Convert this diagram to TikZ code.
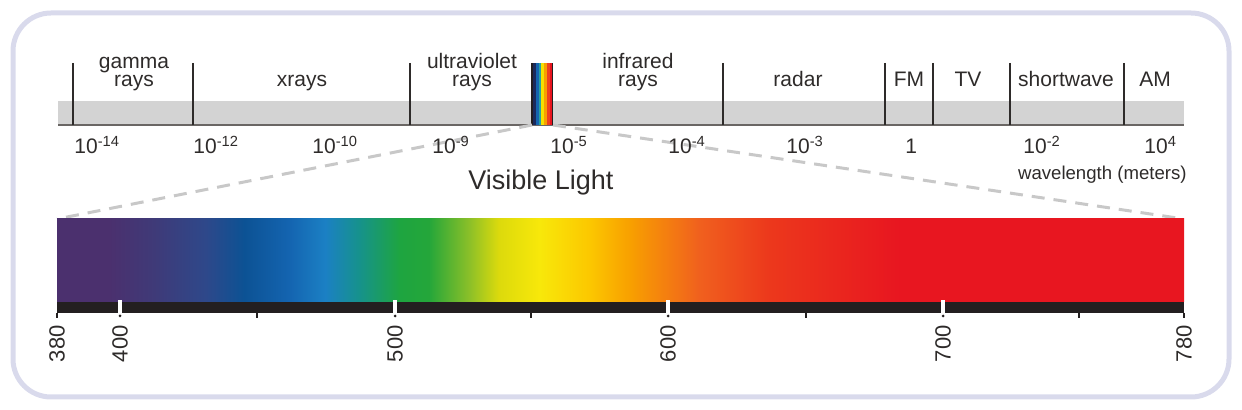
\documentclass[tikz,border=0pt]{standalone}
\usepackage{fontspec}
\setmainfont{Liberation Sans}

\definecolor{ink}{HTML}{2E2B2A}
\definecolor{framecol}{HTML}{D9DAEC}
\definecolor{bandcol}{HTML}{D3D3D3}
\definecolor{rulecol}{HTML}{6A6664}
\definecolor{barcol}{HTML}{231F20}
\definecolor{dashcol}{HTML}{C8C8C8}
\definecolor{st1}{HTML}{1B2A5C}
\definecolor{st2}{HTML}{1565B0}
\definecolor{st3}{HTML}{2AA0A0}
\definecolor{st4}{HTML}{F5E000}
\definecolor{st5}{HTML}{F7A000}
\definecolor{st6}{HTML}{EE4020}
\definecolor{st7}{HTML}{E8141F}
\definecolor{sv1}{RGB}{75,48,110}
\definecolor{sv2}{RGB}{63,58,120}
\definecolor{sv3}{RGB}{46,72,138}
\definecolor{sv4}{RGB}{12,82,148}
\definecolor{sv5}{RGB}{20,100,176}
\definecolor{sv6}{RGB}{27,128,196}
\definecolor{sv7}{RGB}{22,146,140}
\definecolor{sv8}{RGB}{30,165,64}
\definecolor{sv9}{RGB}{36,166,58}
\definecolor{sv10}{RGB}{140,192,40}
\definecolor{sv11}{RGB}{220,218,12}
\definecolor{sv12}{RGB}{248,232,10}
\definecolor{sv13}{RGB}{252,200,0}
\definecolor{sv14}{RGB}{248,160,0}
\definecolor{sv15}{RGB}{240,96,30}
\definecolor{sv16}{RGB}{236,56,28}
\definecolor{sv17}{RGB}{232,22,32}

\pgfdeclarehorizontalshading{visible}{100bp}{color(0bp)=(sv1); color(25bp)=(sv1); color(27.3bp)=(sv1); color(29.3bp)=(sv2); color(31.6bp)=(sv3); color(33.3bp)=(sv4); color(35.3bp)=(sv5); color(36.9bp)=(sv6); color(38.4bp)=(sv7); color(40.2bp)=(sv8); color(41.5bp)=(sv9); color(43.3bp)=(sv10); color(44.6bp)=(sv11); color(46.4bp)=(sv12); color(48.6bp)=(sv13); color(50.4bp)=(sv14); color(53.5bp)=(sv15); color(56.6bp)=(sv16); color(62.4bp)=(sv17); color(75bp)=(sv17); color(100bp)=(sv17)}

\tikzset{
	frame/.style={draw=framecol, line width=2.5pt, rounded corners=19pt},
	divider/.style={draw=ink, line width=1.4pt},
	bandlabel/.style={text=ink, inner sep=0pt, anchor=base, align=center, font=\fontsize{10.5}{9}\selectfont},
	power/.style={text=ink, inner sep=0pt, anchor=base west, font=\fontsize{10.5}{12}\selectfont},
	zoomline/.style={draw=dashcol, line width=1.5pt, dash pattern=on 6.5pt off 4.5pt},
	nmlabel/.style={text=ink, inner sep=0pt, rotate=90, anchor=east, font=\fontsize{11}{12}\selectfont},
	nmtick/.style={draw=barcol, line width=1pt},
	nmgap/.style={fill=white},
}

\begin{document}
\begin{tikzpicture}[x=0.5pt,y=-0.5pt]
	\useasboundingbox (0,0) rectangle (1242,410);
	\draw[frame] (13,13) rectangle (1229,397);

	\fill[bandcol] (58,101) rectangle (1184,124);
	\draw[rulecol, line width=1pt] (58,125) -- (1184,125);

	\draw[divider] (73,63) -- (73,125);
	\draw[divider] (193,63) -- (193,125);
	\draw[divider] (410,63) -- (410,125);
	\draw[divider] (723,63) -- (723,125);
	\draw[divider] (885,63) -- (885,125);
	\draw[divider] (933,63) -- (933,125);
	\draw[divider] (1010,63) -- (1010,125);
	\draw[divider] (1124,63) -- (1124,125);

	\fill[barcol] (531,63) rectangle (533,125);
	\fill[st1] (533,63) rectangle (536,125);
	\fill[st2] (536,63) rectangle (539,125);
	\fill[st3] (539,63) rectangle (541,125);
	\fill[st4] (541,63) rectangle (544,125);
	\fill[st5] (544,63) rectangle (547,125);
	\fill[st6] (547,63) rectangle (550,125);
	\fill[st7] (550,63) rectangle (552,125);
	\fill[barcol] (552,63) rectangle (553,125);

	\coordinate (strip sw) at (532,125);
	\coordinate (strip se) at (553,125);
	\coordinate (spec nw) at (57,219);
	\coordinate (spec ne) at (1184,219);
	\draw[zoomline] (strip sw) -- (spec nw);
	\draw[zoomline] (strip se) -- (spec ne);

	\node[bandlabel] (gamma) at (134,87) {gamma\\rays};
	\node[bandlabel] (xrays) at (302,87) {xrays};
	\node[bandlabel] (uv) at (472,87) {ultraviolet\\rays};
	\node[bandlabel] (ir) at (638,87) {infrared\\rays};
	\node[bandlabel] (radar) at (798,87) {radar};
	\node[bandlabel] (fm) at (909,87) {FM};
	\node[bandlabel] (tv) at (968,87) {TV};
	\node[bandlabel] (sw) at (1066,87) {shortwave};
	\node[bandlabel] (am) at (1155,87) {AM};

	\node[power] (p14) at (74,154) {10\textsuperscript{-14}};
	\node[power] (p12) at (193,154) {10\textsuperscript{-12}};
	\node[power] (p10) at (312,154) {10\textsuperscript{-10}};
	\node[power] (p9) at (432,154) {10\textsuperscript{-9}};
	\node[power] (p5) at (550,154) {10\textsuperscript{-5}};
	\node[power] (p4) at (668,154) {10\textsuperscript{-4}};
	\node[power] (p3) at (786,154) {10\textsuperscript{-3}};
	\node[power] (p0) at (905,154) {1};
	\node[power] (p2) at (1023,154) {10\textsuperscript{-2}};
	\node[power] (pp4) at (1144,154) {10\textsuperscript{4}};

	\node[text=ink, inner sep=0pt, anchor=base, font=\fontsize{13.5}{15}\selectfont] (visible) at (541,190) {Visible Light};
	\node[text=ink, inner sep=0pt, anchor=base east, font=\fontsize{9.3}{11}\selectfont] (meters) at (1187,180) {wavelength (meters)};

	\shade[shading=visible] (spec nw) rectangle (1184,302);
	\fill[barcol] (57,302) rectangle (1184,313);

	\fill[nmgap] (118,300) rectangle (122,313);
	\fill[nmgap] (393,300) rectangle (397,313);
	\fill[nmgap] (666,300) rectangle (670,313);
	\fill[nmgap] (941,300) rectangle (945,313);
	\fill[barcol] (120,316) circle (1.5);
	\fill[barcol] (395,316) circle (1.5);
	\fill[barcol] (668,316) circle (1.5);
	\fill[barcol] (943,316) circle (1.5);

	\draw[nmtick] (57,313) -- (57,318);
	\draw[nmtick] (257,313) -- (257,318);
	\draw[nmtick] (531,313) -- (531,318);
	\draw[nmtick] (806,313) -- (806,318);
	\draw[nmtick] (1079,313) -- (1079,318);
	\draw[nmtick] (1184,313) -- (1184,318);

	\node[nmlabel] (n380) at (57,325) {380};
	\node[nmlabel] (n400) at (120,325) {400};
	\node[nmlabel] (n500) at (395,325) {500};
	\node[nmlabel] (n600) at (668,325) {600};
	\node[nmlabel] (n700) at (943,325) {700};
	\node[nmlabel] (n780) at (1184,325) {780};
\end{tikzpicture}
\end{document}
